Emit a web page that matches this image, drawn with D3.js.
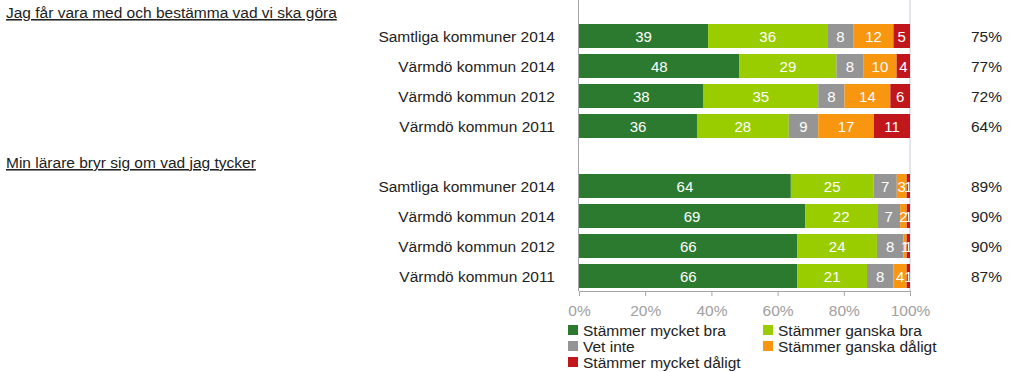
<!DOCTYPE html>
<html>
<head>
<meta charset="utf-8">
<script src="https://cdn.jsdelivr.net/npm/d3@7"></script>
<style>
  body { margin: 0; background: #fff; }
  svg { font-family: Arial, "Liberation Sans", sans-serif; }
</style>
</head>
<body>
<div id="chart"></div>
<script>
// Categories and group titles
const groupTitles = ['Jag får vara med och bestämma vad vi ska göra', 'Min lärare bryr sig om vad jag tycker'];
const categories = ['Samtliga kommuner 2014', 'Värmdö kommun 2014', 'Värmdö kommun 2012', 'Värmdö kommun 2011'];
const seriesNames = ['Stämmer mycket bra', 'Stämmer ganska bra', 'Vet inte', 'Stämmer ganska dåligt', 'Stämmer mycket dåligt'];
const seriesColors = ['#2c7a30', '#9acd00', '#959595', '#f8960f', '#c2161d'];

// Values per series, 4 rows for group 1 then 4 rows for group 2
const mycketBra = [39, 48, 38, 36, 64, 69, 66, 66];
const ganskaBra = [36, 29, 35, 28, 25, 22, 24, 21];
const vetInte = [8, 8, 8, 9, 7, 7, 8, 8];
const ganskaDaligt = [12, 10, 14, 17, 3, 2, 1, 4];
const mycketDaligt = [5, 4, 6, 11, 1, 1, 1, 1];
const totals = [75, 77, 72, 64, 89, 90, 90, 87];
const tickValues = [0, 0.2, 0.4, 0.6, 0.8, 1];

const width = 1023;
const height = 372;

const svg = d3.select('#chart')
    .append('svg')
    .attr('width', width)
    .attr('height', height);

// slots: 4 rows, an empty gap row, 4 rows
const rows = [];
groupTitles.forEach((t, g) => {
    categories.forEach((c, i) => {
        rows.push({ key: `g${g}r${i}`, group: g, idx: g * 4 + i, label: c });
    });
});
const slots = ['g0r0', 'g0r1', 'g0r2', 'g0r3', 'gap', 'g1r0', 'g1r1', 'g1r2', 'g1r3'];

const x = d3.scaleLinear().domain([0, 1]).range([579, 910]);
const y = d3.scaleBand().domain(slots).range([21, 291]).paddingInner(0.2).paddingOuter(0.1);

const series = [mycketBra, ganskaBra, vetInte, ganskaDaligt, mycketDaligt];

// Build 100% stacked segments
const segments = [];
rows.forEach(r => {
    const vals = series.map(s => s[r.idx]);
    const sum = d3.sum(vals);
    let cum = 0;
    vals.forEach((v, k) => {
        segments.push({ row: r, k, v, x0: cum / sum, x1: (cum + v) / sum });
        cum += v;
    });
});

// right border line at 100%
svg.append('line')
    .attr('x1', x(1)).attr('x2', x(1))
    .attr('y1', 0).attr('y2', 291)
    .attr('stroke', '#c9cbd6')
    .attr('stroke-width', 1);

// Bars
svg.append('g')
    .selectAll('rect')
    .data(segments)
    .enter().append('rect')
    .attr('x', d => x(d.x0))
    .attr('y', d => y(d.row.key))
    .attr('width', d => x(d.x1) - x(d.x0))
    .attr('height', y.bandwidth())
    .attr('fill', d => seriesColors[d.k]);

// Value labels
svg.append('g')
    .selectAll('text')
    .data(segments)
    .enter().append('text')
    .attr('x', d => (x(d.x0) + x(d.x1)) / 2)
    .attr('y', d => y(d.row.key) + y.bandwidth() / 2 + 5.5)
    .attr('text-anchor', 'middle')
    .attr('fill', '#fff')
    .attr('font-size', '15px')
    .text(d => d.v);

// Left axis line
svg.append('line')
    .attr('x1', x(0) - 0.5).attr('x2', x(0) - 0.5)
    .attr('y1', 0).attr('y2', 291)
    .attr('stroke', '#a6a6a6');

// Bottom axis
const xAxis = svg.append('g')
    .attr('transform', 'translate(0,291)')
    .call(d3.axisBottom(x)
        .tickValues(tickValues)
        .tickFormat(d3.format('.0%'))
        .tickSize(5)
        .tickSizeOuter(0)
        .tickPadding(9));
xAxis.select('.domain').attr('stroke', '#a6a6a6');
xAxis.selectAll('.tick line').attr('stroke', '#a6a6a6');
xAxis.selectAll('.tick text')
    .attr('fill', '#a0a0a0')
    .attr('font-size', '15.5px')
    .attr('font-family', 'Arial, "Liberation Sans", sans-serif');

// Category labels
svg.append('g')
    .selectAll('text')
    .data(rows)
    .enter().append('text')
    .attr('x', 555)
    .attr('y', d => y(d.key) + y.bandwidth() / 2 + 5.5)
    .attr('text-anchor', 'end')
    .attr('fill', '#222')
    .attr('font-size', '15.5px')
    .text(d => d.label);

// Totals on the right
svg.append('g')
    .selectAll('text')
    .data(rows)
    .enter().append('text')
    .attr('x', 1002)
    .attr('y', d => y(d.key) + y.bandwidth() / 2 + 5.5)
    .attr('text-anchor', 'end')
    .attr('fill', '#222')
    .attr('font-size', '15.5px')
    .text(d => totals[d.idx] + '%');

// Group titles (underlined)
svg.append('g')
    .selectAll('text')
    .data(groupTitles)
    .enter().append('text')
    .attr('x', 6)
    .attr('y', (d, g) => y(`g${g}r0`) - 6)
    .attr('fill', '#222')
    .attr('font-size', '15.5px')
    .style('text-decoration', 'underline')
    .text(d => d);

// Legend
const legendPos = [
    { x: 568, y: 330 }, { x: 763, y: 330 },
    { x: 568, y: 346 }, { x: 763, y: 346 },
    { x: 568, y: 362 }
];
const legend = svg.append('g')
    .selectAll('g')
    .data(seriesNames)
    .enter().append('g')
    .attr('transform', (d, i) => `translate(${legendPos[i].x},${legendPos[i].y})`);

legend.append('rect')
    .attr('x', 0)
    .attr('y', -5)
    .attr('width', 10)
    .attr('height', 10)
    .attr('fill', (d, i) => seriesColors[i]);

legend.append('text')
    .attr('x', 15)
    .attr('y', 5.5)
    .attr('fill', '#222')
    .attr('font-size', '15.5px')
    .text(d => d);
</script>
</body>
</html>
